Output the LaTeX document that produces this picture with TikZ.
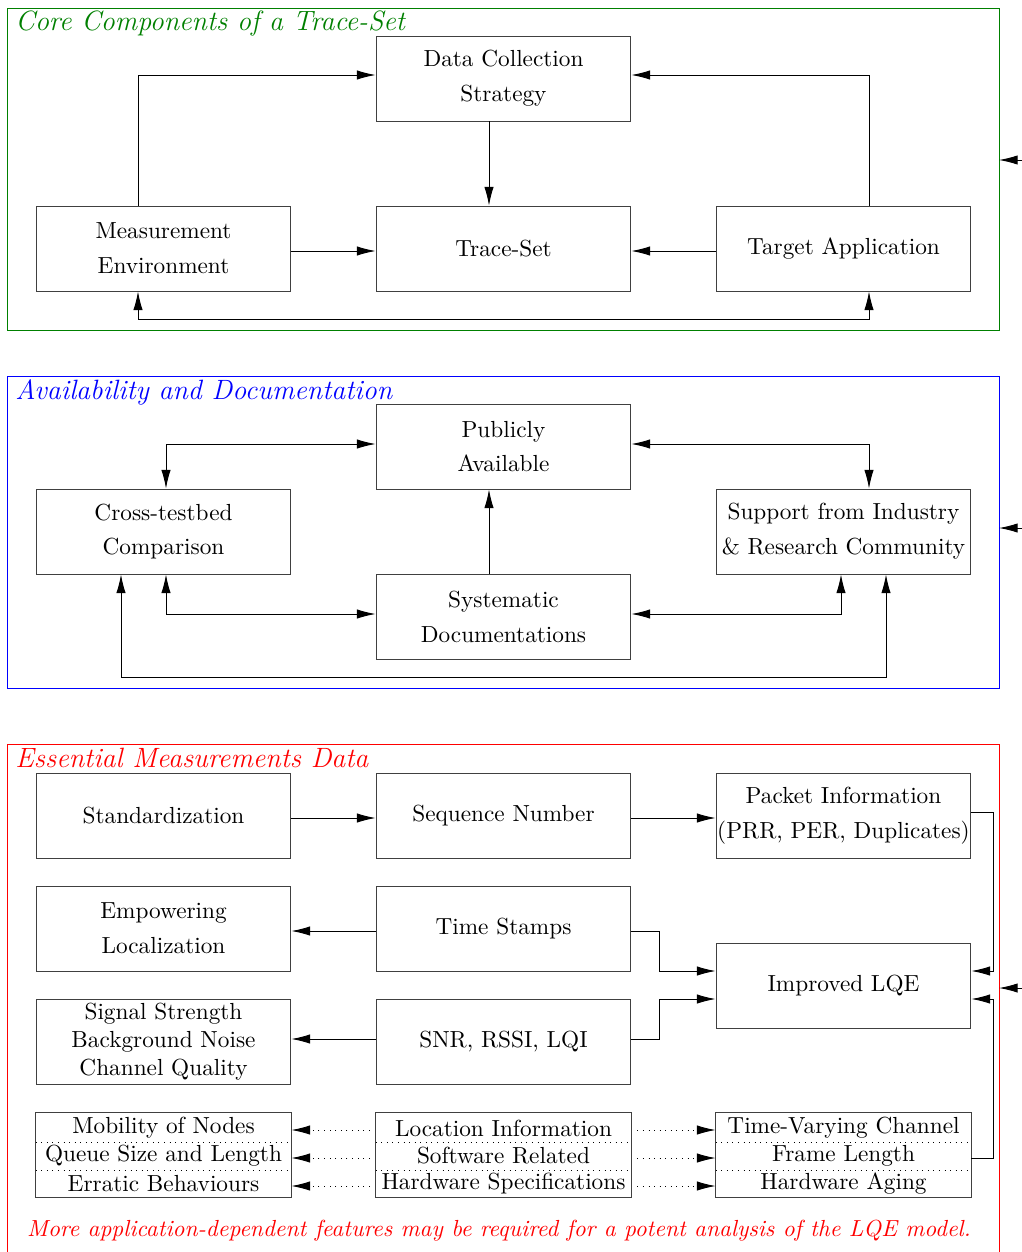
\documentclass[tikz,border=0pt]{standalone}
\usetikzlibrary{arrows.meta,calc}
\begin{document}
\begin{tikzpicture}[x=0.0151cm,y=-0.0151cm,
    blk/.style={draw=black!75, minimum width=3.85cm, minimum height=1.284cm, align=center, inner sep=0pt},
    row/.style={minimum width=3.85cm, minimum height=0.423cm, inner sep=0pt},
    arr/.style={-{Latex[length=8pt,width=4pt]}},
    darr/.style={{Latex[length=8pt,width=4pt]}-{Latex[length=8pt,width=4pt]}},
    ttl/.style={anchor=base west, font=\large\itshape, inner sep=0pt}]
    \useasboundingbox (0,0) rectangle (1021,1252);
    % core components
    \draw[green!50!black] (7,8) rectangle (999,330);
    \coordinate (coreE) at (999,160);
    \node[ttl, text=green!50!black] (coreT) at (15,31) {Core Components of a Trace-Set};
    \node[blk] (dcs) at (503.5,78.5) {Data Collection\\[3pt]Strategy};
    \node[blk] (meas) at (163.5,248.5) {Measurement\\[3pt]Environment};
    \node[blk] (trace) at (503.5,248.5) {Trace-Set};
    \node[blk] (targ) at (843.5,248.5) {Target Application};
    \draw[arr] ($(meas.north)+(-25.5,0)$) |- ($(dcs.west)+(0,-3.5)$);
    \draw[arr] ($(targ.north)+(25.5,0)$) |- ($(dcs.east)+(0,-3.5)$);
    \draw[arr] ($(dcs.south)+(-14.5,0)$) -- ($(trace.north)+(-14.5,0)$);
    \draw[arr] ($(meas.east)+(0,2.5)$) -- ($(trace.west)+(0,2.5)$);
    \draw[arr] ($(targ.west)+(0,2.5)$) -- ($(trace.east)+(0,2.5)$);
    \draw[darr] ($(meas.south)+(-25.5,0)$) -- ++(0,28) -| ($(targ.south)+(25.5,0)$);
    % availability
    \draw[blue] (7,376) rectangle (999,688);
    \coordinate (availE) at (999,528);
    \node[ttl, text=blue] (availT) at (15,399) {Availability and Documentation};
    \node[blk] (pub) at (503.5,446.5) {Publicly\\[3pt]Available};
    \node[blk] (cross) at (163.5,531.5) {Cross-testbed\\[3pt]Comparison};
    \node[blk] (sup) at (843.5,531.5) {Support from Industry\\[3pt]\& Research Community};
    \node[blk] (sys) at (503.5,616.5) {Systematic\\[3pt]Documentations};
    \draw[darr] ($(cross.north)+(2.5,0)$) |- ($(pub.west)+(0,-2.5)$);
    \draw[darr] ($(pub.east)+(0,-2.5)$) -| ($(sup.north)+(25.5,0)$);
    \draw[arr] ($(sys.north)+(-14.5,0)$) -- ($(pub.south)+(-14.5,0)$);
    \draw[darr] ($(cross.south)+(2.5,0)$) |- ($(sys.west)+(0,-2.5)$);
    \draw[darr] ($(sys.east)+(0,-2.5)$) -| ($(sup.south)+(-2.5,0)$);
    \draw[darr] ($(cross.south)+(-42.5,0)$) -- ++(0,103) -| ($(sup.south)+(42.5,0)$);
    % essential data
    \draw[red] (7,744) rectangle (999,1280);
    \coordinate (essE) at (999,988);
    \node[ttl, text=red] (essT) at (15,767) {Essential Measurements Data};
    \node[blk] (std) at (163.5,815.5) {Standardization};
    \node[blk] (seq) at (503.5,815.5) {Sequence Number};
    \node[blk] (pkt) at (843.5,815.5) {Packet Information\\[3pt](PRR, PER, Duplicates)};
    \node[blk] (loc) at (163.5,928.5) {Empowering\\[3pt]Localization};
    \node[blk] (ts) at (503.5,928.5) {Time Stamps};
    \node[blk] (lqe) at (843.5,985.5) {Improved LQE};
    \node[blk] (sig) at (163.5,1041.5) {Signal Strength\\Background Noise\\Channel Quality};
    \node[blk] (snr) at (503.5,1041.5) {SNR, RSSI, LQI};
    \foreach \c/\n/\a/\b/\d in {163.5/mob/Mobility of Nodes/Queue Size and Length/Erratic Behaviours,
        503.5/inf/Location Information/Software Related/Hardware Specifications,
        843.5/tv/Time-Varying Channel/Frame Length/Hardware Aging}{
      \node[row] (\n1) at (\c,1128) {\a};
      \node[row] (\n2) at (\c,1156) {\b};
      \node[row] (\n3) at (\c,1184) {\d};
      \draw[black!75] ($(\n1.north west)+(0,-1)$) rectangle ($(\n3.south east)+(0,-1)$);
      \draw[dotted] (\n1.south west) -- (\n1.south east);
      \draw[dotted] (\n2.south west) -- (\n2.south east);
    }
    \draw[arr] ($(std.east)+(0,2.5)$) -- ($(seq.west)+(0,2.5)$);
    \draw[arr] ($(seq.east)+(0,2.5)$) -- ($(pkt.west)+(0,2.5)$);
    \draw[arr] ($(pkt.east)+(0,-3.5)$) -- ++(22,0) |- ($(lqe.east)+(0,-14.5)$);
    \draw[arr] ($(ts.west)+(0,2.5)$) -- ($(loc.east)+(0,2.5)$);
    \draw[arr] ($(ts.east)+(0,2.5)$) -- ++(28,0) |- ($(lqe.west)+(0,-14.5)$);
    \draw[arr] ($(snr.east)+(0,-2.5)$) -- ++(28,0) |- ($(lqe.west)+(0,13.5)$);
    \draw[arr] ($(snr.west)+(0,-2.5)$) -- ($(sig.east)+(0,-2.5)$);
    \draw[arr] ($(tv2.east)+(0,2)$) -- ++(22,0) |- ($(lqe.east)+(0,13.5)$);
    \foreach \i in {1,2,3}{
      \draw[arr, dotted] ($(inf\i.west)+(-6,2)$) -- ($(mob\i.east)+(0,2)$);
      \draw[arr, dotted] ($(inf\i.east)+(6,2)$) -- ($(tv\i.west)+(0,2)$);
    }
    \node[text=red, font=\itshape] (note) at (499,1231) {More application-dependent features may be required for a potent analysis of the LQE model.};
    % inputs from the right
    \coordinate (in1) at (1040,160);
    \coordinate (in2) at (1040,528);
    \coordinate (in3) at (1040,988);
    \draw[arr] (in1) -- (coreE);
    \draw[arr] (in2) -- (availE);
    \draw[arr] (in3) -- (essE);
\end{tikzpicture}
\end{document}
